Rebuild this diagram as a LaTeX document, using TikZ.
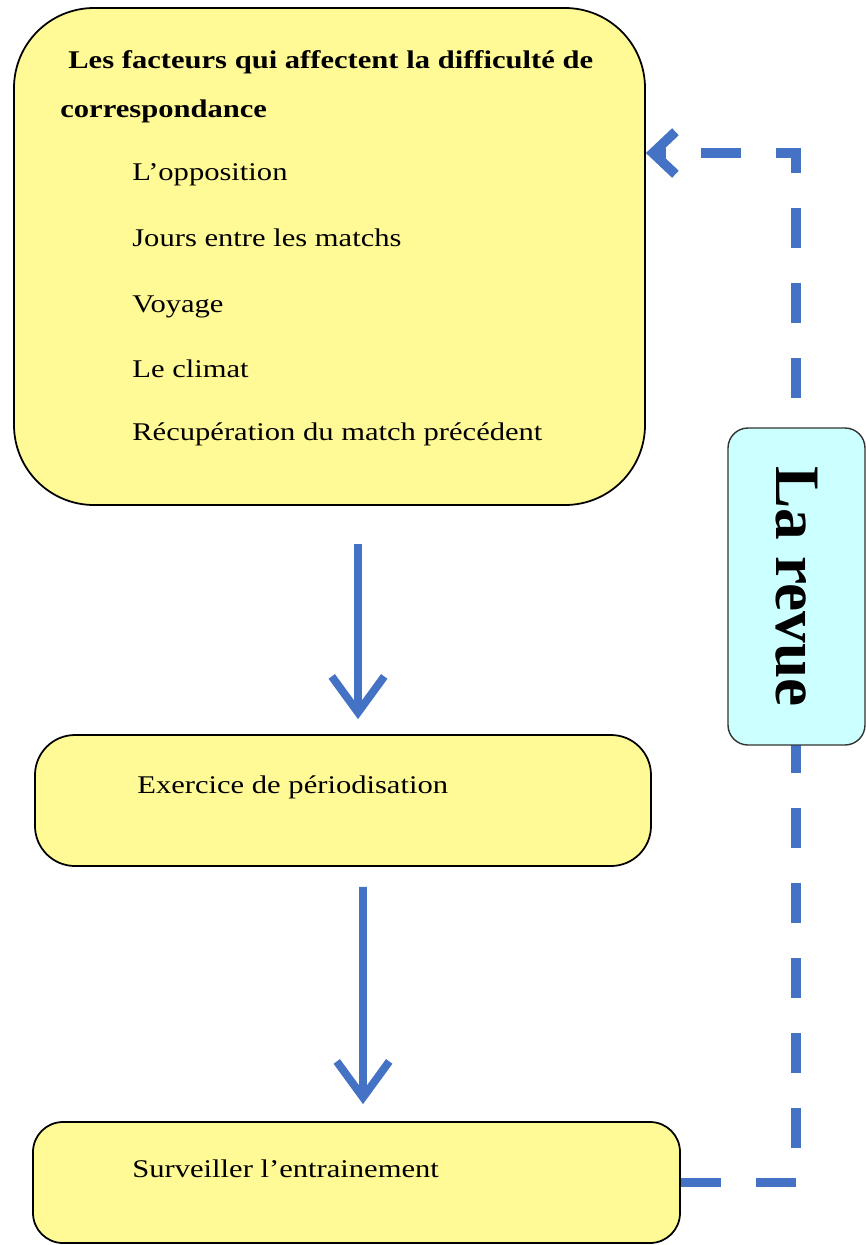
\documentclass[tikz,border=0pt]{standalone}
\usepackage{fontspec}
\setmainfont{Liberation Serif}
\usepackage{tikz}
\usetikzlibrary{arrows.meta,positioning}
\definecolor{boxyellow}{HTML}{FFFA96}
\definecolor{arrowblue}{HTML}{4472C4}
\definecolor{revuecyan}{HTML}{CCFFFF}
\newcommand{\wideText}[1]{\scalebox{1.2}[1]{#1}}
\tikzset{
  bigbox/.style={
    rectangle,
    rounded corners=1.6cm,
    minimum width=12.62cm,
    minimum height=9.94cm,
    draw=black,
    line width=1pt,
    fill=boxyellow
    },
  stepbox/.style={
    rectangle,
    minimum width=12.4cm,
    minimum height=2.6cm,
    draw=black,
    line width=1pt,
    fill=boxyellow
    },
  revue/.style={
    rectangle,
    rounded corners=0.4cm,
    rotate=-90,
    minimum width=6.34cm,
    minimum height=2.74cm,
    draw=black!80,
    line width=0.8pt,
    fill=revuecyan,
    font=\fontsize{36}{40}\selectfont\bfseries
    },
  titre/.style={anchor=base west, inner sep=0pt, font=\fontsize{14.5}{18}\selectfont\bfseries},
  item/.style={anchor=base west, inner sep=0pt, font=\fontsize{14.5}{18}\selectfont},
  flow/.style={draw=arrowblue, line width=4.5pt,
    -{Straight Barb[length=0.72cm,width=1.05cm]}},
  feedback/.style={draw=arrowblue, line width=5.5pt,
    dash pattern=on 0.8cm off 0.7cm,
    -{Straight Barb[length=0.45cm,width=0.85cm]}},
}

\begin{document}
\begin{tikzpicture}
    \useasboundingbox (0,0) rectangle (17.32,-24.9);

    % boxes
    \node[bigbox] (facteurs) at (6.59,-5.13) {};
    \node[stepbox, rounded corners=0.8cm, minimum width=12.32cm, minimum height=2.62cm] (exercice) at (6.86,-16.01) {};
    \node[stepbox, rounded corners=0.6cm, minimum width=12.94cm, minimum height=2.42cm] (suivi) at (7.13,-23.65) {};

    % texts
    \node[titre] (t1) at (1.36,-1.36) {\wideText{Les facteurs qui affectent la difficulté de}};
    \node[titre] (t2) at (1.2,-2.34) {\wideText{correspondance}};
    \node[item] (i1) at (2.64,-3.6) {\wideText{L’opposition}};
    \node[item] (i2) at (2.64,-4.92) {\wideText{Jours entre les matchs}};
    \node[item] (i3) at (2.64,-6.24) {\wideText{Voyage}};
    \node[item] (i4) at (2.64,-7.54) {\wideText{Le climat}};
    \node[item] (i5) at (2.64,-8.8) {\wideText{Récupération du match précédent}};
    \node[item] (e1) at (2.74,-15.86) {\wideText{Exercice de périodisation}};
    \node[item] (s1) at (2.64,-23.54) {\wideText{Surveiller l’entrainement}};

    % arrows
    \draw[flow] ([xshift=0.57cm,yshift=-0.76cm]facteurs.south) -- ([xshift=0.3cm,yshift=0.3cm]exercice.north);
    \draw[flow] ([xshift=0.4cm,yshift=-0.4cm]exercice.south) -- ([xshift=0.13cm,yshift=0.34cm]suivi.north);

    % feedback loop
    \coordinate (coin) at (15.92,-3.06);
    \draw[feedback] (suivi.east) -| (coin) -- (coin -| facteurs.east);
    \node[revue] (revueBox) at (15.93,-11.73) {La revue};
\end{tikzpicture}
\end{document}
